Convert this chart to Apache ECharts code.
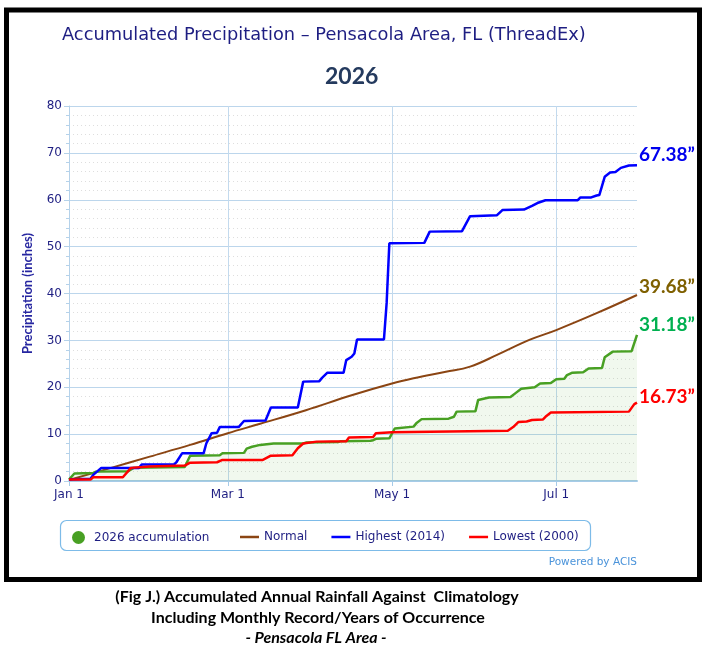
<!DOCTYPE html>
<html>
<head>
<meta charset="utf-8">
<script src="https://cdn.jsdelivr.net/npm/echarts@6/dist/echarts.min.js"></script>
<style>
html,body{margin:0;padding:0;background:#fff;}
#main{width:709px;height:654px;}
</style>
</head>
<body>
<div id="main"></div>
<script>
// ---- data (day index from Jan 1, 2026 -> value in inches) ----
const dayCount = 212;                       // Jan 1 .. Jul 31
const tickDays = [0, 59, 120, 181];
const tickLabels = ['Jan 1', 'Mar 1', 'May 1', 'Jul 1'];

const acc2026 = [[0,0.3],[2,1.6],[9,1.7],[10,2.0],[22,2.1],[24,2.8],[43,3.0],[45,5.4],[56,5.5],[57,5.9],[65,6.0],[66,6.9],[68,7.3],[71,7.7],[76,8.0],[87,8.0],[88,8.2],[100,8.3],[101,8.5],[112,8.6],[113,8.7],[114,9.0],[119,9.1],[121,11.2],[128,11.6],[129,12.3],[131,13.2],[141,13.3],[143,13.7],[144,14.8],[151,14.9],[152,17.3],[156,17.8],[164,17.9],[166,18.8],[168,19.7],[173,20.0],[175,20.8],[179,20.9],[181,21.7],[184,21.8],[185,22.6],[187,23.1],[191,23.2],[193,24.0],[198,24.1],[199,26.4],[202,27.6],[209,27.7],[211,31.18]];

const normal = [[0,0.2],[15,2.7],[30,5.2],[45,7.7],[59,10.2],[71,12.2],[88,15.1],[105,18.3],[120,20.8],[128,21.9],[140,23.3],[149,24.4],[159,26.9],[171,30.1],[181,32.2],[196,35.8],[211,39.68]];

const highest2014 = [[0,0.3],[8,0.5],[9,1.3],[12,2.8],[26,2.8],[27,3.5],[39,3.5],[40,4.1],[42,5.9],[50,5.9],[51,8.0],[53,10.2],[55,10.3],[56,11.5],[63,11.5],[65,12.8],[73,12.9],[75,15.7],[85,15.7],[87,21.2],[93,21.3],[94,22.0],[96,23.1],[102,23.1],[103,25.8],[105,26.5],[106,27.2],[107,30.2],[117,30.2],[118,38.0],[119,50.7],[132,50.8],[134,53.2],[146,53.3],[149,56.5],[159,56.7],[161,57.8],[169,57.9],[172,58.7],[174,59.3],[177,59.9],[189,59.9],[190,60.5],[194,60.5],[196,60.9],[197,61.0],[199,64.9],[201,65.8],[203,65.9],[205,66.8],[208,67.3],[211,67.38]];

const lowest2000 = [[0,0.3],[8,0.3],[9,0.8],[20,0.8],[23,2.8],[30,3.1],[43,3.3],[45,3.9],[55,4.0],[57,4.5],[72,4.5],[75,5.4],[83,5.5],[85,7.0],[87,8.0],[92,8.4],[103,8.5],[104,9.3],[113,9.4],[114,10.2],[120,10.4],[163,10.7],[165,11.5],[167,12.6],[170,12.7],[172,13.0],[176,13.1],[177,13.7],[179,14.6],[208,14.8],[210,16.4],[211,16.73]];

const endTexts = {acc: '31.18\u201D', normal: '39.68\u201D', high: '67.38\u201D', low: '16.73\u201D'};

const days = [];
for (let i = 0; i < dayCount; i++) days.push(String(i));

const navy = '#1e1e82';
const chartFont = 'DejaVu Sans';
const isTick = (idx) => tickDays.indexOf(idx) >= 0;

function endLabel(text, color, dy) {
  return {
    show: true, formatter: text, color: color, fontWeight: 'bold',
    fontSize: 19, fontFamily: 'Lato', distance: 2, offset: [0, dy]
  };
}

const chart = echarts.init(document.getElementById('main'), null, {renderer: 'canvas'});
chart.setOption({
  animation: false,
  backgroundColor: '#fff',
  textStyle: {fontFamily: chartFont},
  title: [
    {text: 'Accumulated Precipitation \u2013 Pensacola Area, FL (ThreadEx)', left: 57, top: 21,
     textStyle: {color: navy, fontSize: 17.8, fontWeight: 'normal', fontFamily: chartFont}},
    {text: '2026', left: 320, top: 60, textStyle: {color: '#243a5e', fontSize: 23, fontWeight: 'bold', fontFamily: 'Lato'}}
  ],
  grid: {left: 69, right: 72, top: 106, bottom: 173},
  legend: [
    {data: [{name: '2026 accumulation', icon: 'circle'}], left: 67, top: 526, itemWidth: 13, itemHeight: 13,
     textStyle: {color: navy, fontSize: 12, fontFamily: chartFont, padding: [0, 0, 0, 4]}},
    {data: ['Normal', 'Highest (2014)', 'Lowest (2000)'], icon: 'rect', left: 235, top: 526, itemWidth: 19, itemHeight: 2.5, itemGap: 24,
     textStyle: {color: navy, fontSize: 12, fontFamily: chartFont}}
  ],
  xAxis: {
    type: 'category', data: days, boundaryGap: false,
    axisLine: {lineStyle: {color: '#a6cbe8', width: 2}},
    axisTick: {show: true, interval: (i) => isTick(i), length: 5, lineStyle: {color: '#a6cbe8'}},
    axisLabel: {interval: (i) => isTick(i), formatter: (v, i) => tickLabels[tickDays.indexOf(Number(v))] || '',
                color: navy, fontSize: 12, margin: 8, fontFamily: chartFont},
    splitLine: {show: true, interval: (i) => isTick(i), lineStyle: {color: '#c3daee', width: 1}}
  },
  yAxis: {
    type: 'value', min: 0, max: 80, interval: 10,
    name: 'Precipitation (inches)', nameLocation: 'middle', nameGap: 35, nameRotate: 90,
    nameTextStyle: {color: '#2626a0', fontSize: 13, fontWeight: 'bold', fontFamily: 'Lato'},
    axisLine: {show: true, lineStyle: {color: '#b5d2ea'}},
    axisTick: {show: true, length: 5, lineStyle: {color: '#b5d2ea'}},
    minorTick: {show: true, splitNumber: 5, length: 3, lineStyle: {color: '#b5d2ea'}},
    axisLabel: {color: navy, fontSize: 12, margin: 7, fontFamily: chartFont},
    splitLine: {lineStyle: {color: '#bcd6ec'}},
    minorSplitLine: {show: true, lineStyle: {color: '#dedede', type: [1, 3]}}
  },
  series: [
    {name: '2026 accumulation', type: 'line', data: acc2026, symbol: 'none', z: 3,
     itemStyle: {color: '#48a023'}, lineStyle: {color: '#48a023', width: 2.5},
     areaStyle: {color: 'rgba(72,160,35,0.11)'},
     endLabel: endLabel(endTexts.acc, '#00b050', -10)},
    {name: 'Normal', type: 'line', data: normal, symbol: 'none', smooth: 0.4, z: 2,
     itemStyle: {color: '#8b4513'}, lineStyle: {color: '#8b4513', width: 2},
     endLabel: endLabel(endTexts.normal, '#7f6000', -8)},
    {name: 'Highest (2014)', type: 'line', data: highest2014, symbol: 'none', z: 4,
     itemStyle: {color: '#0000ff'}, lineStyle: {color: '#0000ff', width: 2.5},
     endLabel: endLabel(endTexts.high, '#0000ee', -10)},
    {name: 'Lowest (2000)', type: 'line', data: lowest2000, symbol: 'none', z: 5,
     itemStyle: {color: '#ff0000'}, lineStyle: {color: '#ff0000', width: 2.5},
     endLabel: endLabel(endTexts.low, '#ff0000', -6)}
  ],
  graphic: [
    {type: 'rect', shape: {x: 6.5, y: 10, width: 693, height: 569.5}, z: 100,
     style: {fill: 'none', stroke: '#000', lineWidth: 5}},
    {type: 'rect', shape: {x: 60.5, y: 520.5, width: 530, height: 30, r: 6}, z: 1,
     style: {fill: 'none', stroke: '#7dbbe8', lineWidth: 1.2}},
    {type: 'text', right: 72, top: 557, style: {text: 'Powered by ACIS', fill: '#4a93da', fontSize: 10.5, fontFamily: chartFont}},
    {type: 'text', x: 317, y: 597, style: {text: '(Fig J.) Accumulated Annual Rainfall Against  Climatology', fill: '#000', fontSize: 16, fontWeight: 'bold', fontFamily: 'Lato', textAlign: 'center', textVerticalAlign: 'middle'}},
    {type: 'text', x: 318, y: 618, style: {text: 'Including Monthly Record/Years of Occurrence', fill: '#000', fontSize: 16, fontWeight: 'bold', fontFamily: 'Lato', textAlign: 'center', textVerticalAlign: 'middle'}},
    {type: 'text', x: 316, y: 638, style: {text: '- Pensacola FL Area -', fill: '#000', fontSize: 16, fontWeight: 'bold', fontStyle: 'italic', fontFamily: 'Lato', textAlign: 'center', textVerticalAlign: 'middle'}}
  ]
});
</script>
</body>
</html>
